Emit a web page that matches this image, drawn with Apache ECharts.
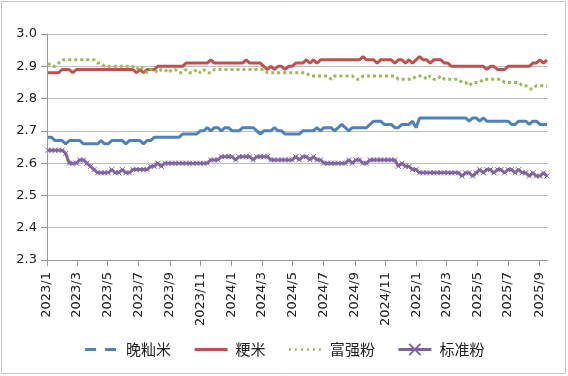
<!DOCTYPE html>
<html>
<head>
<meta charset="utf-8">
<script src="https://cdn.jsdelivr.net/npm/echarts@6/dist/echarts.min.js"></script>
<style>
  html, body { margin: 0; padding: 0; background: #fff; }
  #main { width: 568px; height: 376px; }
</style>
</head>
<body>
<div id="main"></div>
<script>
// weekly price points, first one on startDay
const startDay = [2023, 1, 3];
const stepDays = 7;
const axisStart = [2023, 1, 1];
const axisEnd = [2025, 9, 18];

const seriesNames = ["晚籼米", "粳米", "富强粉", "标准粉"];

const wanXianMi = [
  2.68,2.68,2.67,2.67,2.67,2.66,2.67,2.67,2.67,2.67,
  2.66,2.66,2.66,2.66,2.66,2.67,2.66,2.66,2.67,2.67,
  2.67,2.67,2.66,2.67,2.67,2.67,2.67,2.66,2.67,2.67,
  2.68,2.68,2.68,2.68,2.68,2.68,2.68,2.68,2.69,2.69,
  2.69,2.69,2.69,2.70,2.70,2.71,2.70,2.71,2.71,2.70,
  2.71,2.71,2.70,2.70,2.70,2.71,2.71,2.71,2.71,2.70,
  2.69,2.70,2.70,2.70,2.71,2.70,2.70,2.69,2.69,2.69,
  2.69,2.69,2.70,2.70,2.70,2.70,2.71,2.70,2.71,2.71,
  2.71,2.70,2.71,2.72,2.71,2.70,2.71,2.71,2.71,2.71,
  2.71,2.72,2.73,2.73,2.73,2.72,2.72,2.72,2.71,2.71,
  2.72,2.72,2.72,2.73,2.71,2.74,2.74,2.74,2.74,2.74,
  2.74,2.74,2.74,2.74,2.74,2.74,2.74,2.74,2.74,2.73,
  2.74,2.74,2.73,2.74,2.73,2.73,2.73,2.73,2.73,2.73,
  2.73,2.72,2.72,2.73,2.73,2.73,2.72,2.73,2.73,2.72,
  2.72,2.72
];

const jingMi = [
  2.88,2.88,2.88,2.88,2.89,2.89,2.89,2.88,2.89,2.89,
  2.89,2.89,2.89,2.89,2.89,2.89,2.89,2.89,2.89,2.89,
  2.89,2.89,2.89,2.89,2.89,2.88,2.89,2.88,2.89,2.89,
  2.89,2.90,2.90,2.90,2.90,2.90,2.90,2.90,2.90,2.91,
  2.91,2.91,2.91,2.91,2.91,2.91,2.92,2.91,2.91,2.91,
  2.91,2.91,2.91,2.91,2.91,2.91,2.92,2.91,2.91,2.91,
  2.91,2.90,2.89,2.90,2.89,2.90,2.90,2.89,2.90,2.90,
  2.91,2.91,2.91,2.92,2.91,2.92,2.91,2.92,2.92,2.92,
  2.92,2.92,2.92,2.92,2.92,2.92,2.92,2.92,2.92,2.93,
  2.92,2.92,2.92,2.91,2.92,2.92,2.92,2.92,2.91,2.92,
  2.92,2.91,2.92,2.91,2.92,2.93,2.92,2.92,2.91,2.92,
  2.92,2.92,2.91,2.91,2.90,2.90,2.90,2.90,2.90,2.90,
  2.90,2.90,2.90,2.90,2.89,2.90,2.90,2.89,2.89,2.89,
  2.90,2.90,2.90,2.90,2.90,2.90,2.90,2.91,2.91,2.92,
  2.91,2.92
];

const fuQiangFen = [
  2.91,2.90,2.90,2.91,2.92,2.92,2.92,2.92,2.92,2.92,
  2.92,2.92,2.92,2.92,2.91,2.91,2.90,2.90,2.90,2.90,
  2.90,2.90,2.90,2.90,2.90,2.89,2.90,2.89,2.88,2.89,
  2.89,2.88,2.89,2.89,2.88,2.89,2.89,2.88,2.88,2.89,
  2.88,2.88,2.89,2.88,2.89,2.88,2.88,2.89,2.89,2.89,
  2.89,2.89,2.89,2.89,2.89,2.89,2.89,2.89,2.89,2.89,
  2.89,2.89,2.88,2.88,2.88,2.88,2.88,2.88,2.88,2.88,
  2.88,2.88,2.88,2.88,2.87,2.87,2.87,2.87,2.87,2.87,
  2.86,2.87,2.87,2.87,2.87,2.87,2.87,2.86,2.86,2.87,
  2.87,2.87,2.87,2.87,2.87,2.87,2.87,2.87,2.87,2.86,
  2.86,2.86,2.86,2.86,2.87,2.87,2.87,2.86,2.87,2.86,
  2.86,2.87,2.86,2.86,2.86,2.86,2.86,2.85,2.85,2.84,
  2.85,2.85,2.85,2.86,2.86,2.86,2.86,2.86,2.86,2.85,
  2.85,2.85,2.85,2.85,2.84,2.84,2.83,2.83,2.84,2.84,
  2.84,2.84
];

const biaoZhunFen = [
  2.64,2.64,2.64,2.64,2.64,2.63,2.60,2.60,2.60,2.61,
  2.61,2.60,2.59,2.58,2.57,2.57,2.57,2.57,2.58,2.57,
  2.57,2.58,2.57,2.57,2.58,2.58,2.58,2.58,2.58,2.59,
  2.59,2.60,2.59,2.60,2.60,2.60,2.60,2.60,2.60,2.60,
  2.60,2.60,2.60,2.60,2.60,2.60,2.61,2.61,2.61,2.62,
  2.62,2.62,2.62,2.61,2.62,2.62,2.62,2.62,2.61,2.62,
  2.62,2.62,2.62,2.61,2.61,2.61,2.61,2.61,2.61,2.61,
  2.62,2.61,2.62,2.62,2.61,2.62,2.61,2.61,2.60,2.60,
  2.60,2.60,2.60,2.60,2.60,2.61,2.60,2.61,2.61,2.60,
  2.60,2.61,2.61,2.61,2.61,2.61,2.61,2.61,2.61,2.59,
  2.60,2.59,2.59,2.58,2.58,2.57,2.57,2.57,2.57,2.57,
  2.57,2.57,2.57,2.57,2.57,2.57,2.57,2.56,2.57,2.57,
  2.56,2.57,2.58,2.57,2.58,2.58,2.57,2.58,2.58,2.57,
  2.58,2.58,2.57,2.58,2.57,2.57,2.56,2.57,2.56,2.56,
  2.57,2.56
];

const tickLabels = [
  "2023/1","2023/3","2023/5","2023/7","2023/9","2023/11",
  "2024/1","2024/3","2024/5","2024/7","2024/9","2024/11",
  "2025/1","2025/3","2025/5","2025/7","2025/9"
];

const colors = ["#4F81BD", "#C0504D", "#9BBB59", "#8064A2"];

let toTime = (ymd) => new Date(ymd[0], ymd[1] - 1, ymd[2]).getTime();
let pairUp = (values) => values.map((v, i) => {
  let d = new Date(startDay[0], startDay[1] - 1, startDay[2] + i * stepDays);
  return [d.getTime(), v];
});
let tickTimes = tickLabels.map((s) => {
  let p = s.split("/");
  return new Date(+p[0], +p[1] - 1, 1).getTime();
});

let initChart = () => {
  let myChart = echarts.init(document.getElementById("main"));
  let numFont = "DejaVu Sans";
  let noMark = { opacity: 0 };
  let option = {
    animation: false,
    color: colors,
    grid: { left: 47, right: 20, top: 34, bottom: 116, containLabel: false },
    graphic: [{
      type: "rect",
      silent: true,
      z: -10,
      shape: { x: 1.5, y: 1.5, width: 564, height: 372 },
      style: { fill: "none", stroke: "#c8c8c8", lineWidth: 1 }
    }],
    legend: {
      top: 337,
      left: "center",
      itemWidth: 33,
      itemHeight: 14,
      itemGap: 22,
      textStyle: { fontFamily: "Noto Sans CJK SC", fontSize: 15, color: "#222", padding: [0, 0, 0, 3] },
      data: [
        { name: seriesNames[0], itemStyle: noMark, lineStyle: { type: [11, 9], width: 3 } },
        { name: seriesNames[1], itemStyle: noMark, lineStyle: { width: 3 } },
        { name: seriesNames[2], itemStyle: noMark, lineStyle: { type: [2, 4], width: 2.5 } },
        { name: seriesNames[3], lineStyle: { width: 3 } }
      ]
    },
    xAxis: {
      type: "value",
      min: toTime(axisStart),
      max: toTime(axisEnd),
      splitLine: { show: false },
      axisLine: { lineStyle: { color: "#9a9a9a", width: 1 } },
      axisTick: { show: true, length: 6, lineStyle: { color: "#9a9a9a" }, customValues: tickTimes },
      axisLabel: {
        customValues: tickTimes,
        rotate: 90,
        margin: 12,
        fontFamily: numFont,
        fontSize: 13,
        color: "#222",
        hideOverlap: false,
        formatter: (v) => {
          let d = new Date(v);
          return d.getFullYear() + "/" + (d.getMonth() + 1);
        }
      }
    },
    yAxis: {
      type: "value",
      min: 2.3,
      max: 3.0,
      interval: 0.1,
      axisLine: { show: true, lineStyle: { color: "#9a9a9a" } },
      axisTick: { show: true, length: 6, lineStyle: { color: "#9a9a9a" } },
      splitLine: { lineStyle: { color: "#bfbfbf", width: 1 } },
      axisLabel: {
        margin: 10,
        fontFamily: numFont,
        fontSize: 13,
        color: "#222",
        formatter: (v) => v.toFixed(1)
      }
    },
    series: [
      {
        name: seriesNames[0],
        type: "line",
        data: pairUp(wanXianMi),
        symbol: "none",
        lineStyle: { width: 3, color: colors[0] }
      },
      {
        name: seriesNames[1],
        type: "line",
        data: pairUp(jingMi),
        symbol: "none",
        lineStyle: { width: 3, color: colors[1] }
      },
      {
        name: seriesNames[2],
        type: "line",
        data: pairUp(fuQiangFen),
        symbol: "none",
        lineStyle: { width: 3, color: colors[2], type: [3, 3] }
      },
      {
        name: seriesNames[3],
        type: "line",
        data: pairUp(biaoZhunFen),
        symbol: "path://M0,0L10,10M10,0L0,10",
        symbolSize: 5,
        showSymbol: true,
        itemStyle: { color: colors[3], borderColor: colors[3], borderWidth: 1 },
        lineStyle: { width: 3, color: colors[3] }
      }
    ]
  };
  myChart.setOption(option);
};

initChart();
</script>
</body>
</html>
